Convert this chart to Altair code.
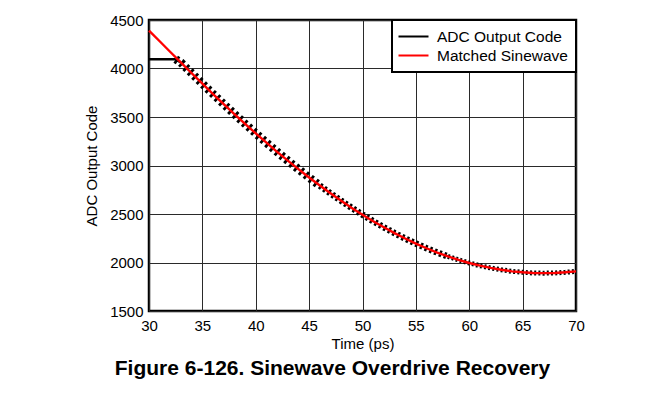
import altair as alt
import pandas as pd

# ---- data ----
time_ps = list(range(30, 71))
matched_sine = [4390, 4281, 4170, 4060, 3951, 3843, 3737, 3633, 3530, 3430,
                3331, 3235, 3141, 3050, 2962, 2876, 2793, 2713, 2636, 2563,
                2493, 2426, 2363, 2303, 2247, 2195, 2147, 2103, 2063, 2027,
                1995, 1967, 1944, 1925, 1909, 1899, 1892, 1890, 1892, 1899, 1909]

adc_time = [30, 32.5] + list(range(33, 71))
adc_code = [4095, 4095, 4060, 3951, 3843, 3737, 3633, 3530, 3430,
            3331, 3235, 3141, 3050, 2962, 2876, 2793, 2713, 2636, 2563,
            2493, 2426, 2363, 2303, 2247, 2195, 2147, 2103, 2063, 2027,
            1995, 1967, 1944, 1925, 1909, 1899, 1892, 1890, 1892, 1899, 1909]

series_names = ["ADC Output Code", "Matched Sinewave"]
series_colors = ["#000000", "#ff0000"]
x_ticks = [30, 35, 40, 45, 50, 55, 60, 65, 70]
y_ticks = [1500, 2000, 2500, 3000, 3500, 4000, 4500]

sine_df = pd.DataFrame({"t": time_ps, "v": matched_sine, "series": series_names[1]})
adc_df = pd.DataFrame({"t": adc_time, "v": adc_code, "series": series_names[0]})

FONT = "Liberation Sans"

x_enc = alt.X("t:Q", scale=alt.Scale(domain=[30, 70], nice=False),
              axis=alt.Axis(values=x_ticks, title="Time (ps)", format="d",
                            labelPadding=7, titlePadding=3, labelFlush=False))
y_enc = alt.Y("v:Q", scale=alt.Scale(domain=[1500, 4500], nice=False),
              axis=alt.Axis(values=y_ticks, title="ADC Output Code", format="d",
                            labelPadding=6, titlePadding=10, labelFlush=False))
color_enc = alt.Color("series:N",
                      scale=alt.Scale(domain=series_names, range=series_colors),
                      legend=alt.Legend(title=None, orient="top-right", offset=0))

base_adc = alt.Chart(adc_df)

flat = base_adc.mark_line(strokeWidth=2.5).encode(
    x=x_enc, y=y_enc, color=color_enc
).transform_filter(alt.datum.t <= 33)

jag_a = base_adc.mark_line(strokeWidth=8.5, strokeDash=[2.8, 3.4], color="black").encode(
    x=x_enc, y=y_enc
).transform_filter((alt.datum.t >= 32.5) & (alt.datum.t <= 46))

jag_b = base_adc.mark_line(strokeWidth=6.5, strokeDash=[2.5, 2.6], color="black").encode(
    x=x_enc, y=y_enc
).transform_filter((alt.datum.t >= 46) & (alt.datum.t <= 58))

jag_c = base_adc.mark_line(strokeWidth=5, strokeDash=[2, 2.2], color="black").encode(
    x=x_enc, y=y_enc
).transform_filter(alt.datum.t >= 58)

red = alt.Chart(sine_df).mark_line(strokeWidth=2.4).encode(
    x=x_enc, y=y_enc, color=color_enc
)

chart = alt.layer(flat, jag_a, jag_b, jag_c, red).properties(
    width=427, height=291,
    background="white",
    autosize=alt.AutoSizeParams(type="none"),
    padding={"left": 141, "top": 12, "right": 80, "bottom": 75},
    title=alt.TitleParams("Figure 6-126. Sinewave Overdrive Recovery",
                          orient="bottom", anchor="middle", dx=-30, offset=7,
                          font=FONT, fontSize=21, fontWeight="bold", color="black"),
).configure_view(
    stroke="black", strokeWidth=2.5
).configure_axis(
    grid=True, gridColor="#2a2a2a", gridWidth=1, domain=False, ticks=False,
    labelFont=FONT, labelFontSize=15, labelColor="black",
    titleFont=FONT, titleFontSize=15, titleFontWeight="normal", titleColor="black",
).configure_legend(
    padding=8, strokeColor="black", strokeWidth=2,
    fillColor="white", labelFont=FONT, labelFontSize=15.5, labelColor="black",
    symbolType="M-2,0H2", symbolSize=225, symbolStrokeWidth=2,
    symbolOffset=5, labelOffset=15,
    rowPadding=2, cornerRadius=0, labelLimit=300,
)

chart.save("out.html", embed_options={"renderer": "svg", "actions": False})
